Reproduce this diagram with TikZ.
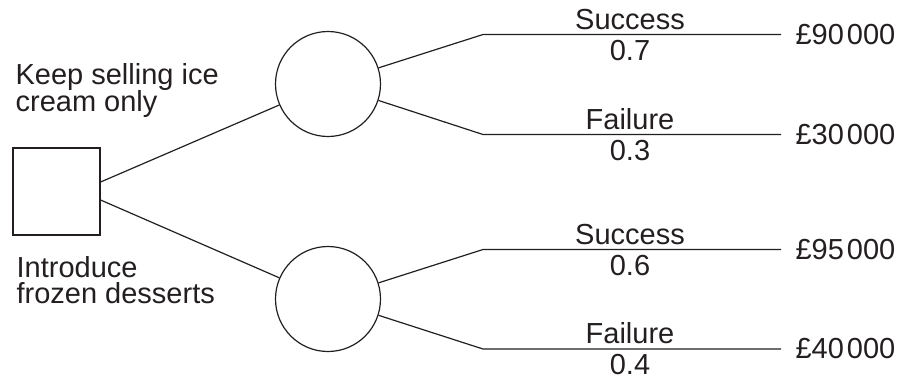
\documentclass[tikz,border=0pt]{standalone}
\usepackage{fontspec}
\setmainfont{Liberation Sans}
\definecolor{ink}{HTML}{231F20}
\begin{document}
\begin{tikzpicture}[x=1pt,y=-1pt,
  line width=1.2pt, draw=ink,
  txt/.style={inner sep=0pt, text=ink, font=\fontsize{29}{27}\selectfont},
  chance/.style={circle, draw=ink, line width=1.2pt, minimum size=105pt, inner sep=0pt},
  decision/.style={rectangle, draw=ink, line width=1.2pt, minimum size=87pt, inner sep=0pt},
  branch/.style={draw=ink, line width=1.2pt}]
\useasboundingbox (0,0) rectangle (902,381);
% decision node
\node[decision] (sq) at (56.5,191.5) {};
\coordinate (s1) at ([yshift=9.5pt]sq.east);
\coordinate (s2) at ([yshift=-8.5pt]sq.east);
% chance nodes
\node[chance] (c1) at (328,84) {};
\node[chance] (c2) at (328,299) {};
% corners and ends
\coordinate (a1) at (483,34.5);  \coordinate (e1) at (781,34.5);
\coordinate (a2) at (483,134.5); \coordinate (e2) at (781,134.5);
\coordinate (a3) at (483,249.5); \coordinate (e3) at (781,249.5);
\coordinate (a4) at (483,349);   \coordinate (e4) at (781,349);
% connectors
\draw[branch] (s1) -- (c1);
\draw[branch] (s2) -- (c2);
\draw[branch] (c1) -- (a1) -- (e1);
\draw[branch] (c1) -- (a2) -- (e2);
\draw[branch] (c2) -- (a3) -- (e3);
\draw[branch] (c2) -- (a4) -- (e4);
% option labels
\node[txt, anchor=base west] (k1) at (15,84) {Keep selling ice};
\node[txt, anchor=base west] (k2) at (15,111) {cream only};
\node[txt, anchor=base west] (f1) at (16,277) {Introduce};
\node[txt, anchor=base west] (f2) at (16,303.5) {frozen desserts};
% branch labels
\node[txt, anchor=base] (l1) at (630,29) {Success};
\node[txt, anchor=base] (p1) at (630,60) {0.7};
\node[txt, anchor=base] (l2) at (630,129) {Failure};
\node[txt, anchor=base] (p2) at (630,160) {0.3};
\node[txt, anchor=base] (l3) at (630,244) {Success};
\node[txt, anchor=base] (p3) at (630,275) {0.6};
\node[txt, anchor=base] (l4) at (630,343.5) {Failure};
\node[txt, anchor=base] (p4) at (630,374.5) {0.4};
% payoffs
\node[txt, anchor=west] (v1) at (795,34.5) {£90\hspace{0.1em}000};
\node[txt, anchor=west] (v2) at (795,134.5) {£30\hspace{0.1em}000};
\node[txt, anchor=west] (v3) at (795,249.5) {£95\hspace{0.1em}000};
\node[txt, anchor=west] (v4) at (795,349) {£40\hspace{0.1em}000};
\end{tikzpicture}
\end{document}
